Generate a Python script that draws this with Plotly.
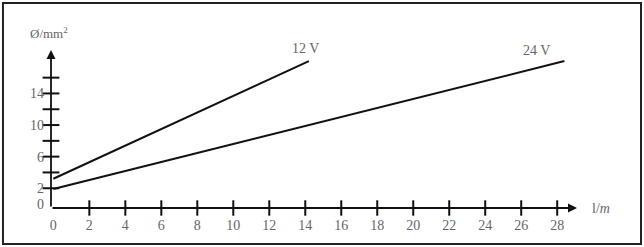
import plotly.graph_objects as go

# data
x_12v = [0, 14.2]
y_12v = [3.2, 18.1]
x_24v = [0, 28.4]
y_24v = [1.9, 18.1]
x_ticks = [2, 4, 6, 8, 10, 12, 14, 16, 18, 20, 22, 24, 26, 28]
x_ticklabels = ["0", "2", "4", "6", "8", "10", "12", "14", "16", "18", "20", "22", "24", "26", "28"]
x_labelvals = [0] + x_ticks
y_ticks = [2, 4, 6, 8, 10, 12, 14, 16]
y_labelvals = [0, 2, 6, 10, 14]
y_ticklabels = ["0", "2", "6", "10", "14"]

XMIN, XMAX = -0.13, 29.1
YMIN, YMAX = -0.5, 19.5
FONT = "Liberation Serif"
GRAY = "#666666"

fig = go.Figure()
fig.add_trace(go.Scatter(x=x_12v, y=y_12v, mode="lines",
                         line=dict(color="#111111", width=2), showlegend=False, cliponaxis=False))
fig.add_trace(go.Scatter(x=x_24v, y=y_24v, mode="lines",
                         line=dict(color="#111111", width=2), showlegend=False, cliponaxis=False))
# crossing tick marks
fig.add_trace(go.Scatter(x=x_ticks, y=[YMIN] * len(x_ticks), mode="markers",
                         marker=dict(symbol="line-ns", size=11, line=dict(color="#111111", width=2)),
                         showlegend=False, cliponaxis=False))
fig.add_trace(go.Scatter(x=[XMIN] * len(y_ticks), y=y_ticks, mode="markers",
                         marker=dict(symbol="line-ew", size=12, line=dict(color="#111111", width=2)),
                         showlegend=False, cliponaxis=False))

# axes with arrows
fig.add_annotation(x=XMAX, y=YMIN, ax=XMIN, ay=YMIN, xref="x", yref="y", axref="x", ayref="y",
                   showarrow=True, arrowhead=2, arrowsize=1, arrowwidth=1.8, arrowcolor="#111111", text="")
fig.add_annotation(x=XMIN, y=YMAX, ax=XMIN, ay=YMIN, xref="x", yref="y", axref="x", ayref="y",
                   showarrow=True, arrowhead=2, arrowsize=1, arrowwidth=1.8, arrowcolor="#111111", text="")

fig.add_annotation(x=0.483, y=1.07, xref="paper", yref="paper", text="12 V", showarrow=False,
                   font=dict(family=FONT, size=14, color=GRAY))
fig.add_annotation(x=0.953, y=1.057, xref="paper", yref="paper", text="24 V", showarrow=False,
                   font=dict(family=FONT, size=14, color=GRAY))
fig.add_annotation(x=-0.004, y=1.108, xref="paper", yref="paper", text="Ø/mm<sup>2</sup>",
                   showarrow=False, xanchor="center", yanchor="middle",
                   font=dict(family=FONT, size=13, color=GRAY))
fig.add_annotation(x=1.045, y=0.0, xref="paper", yref="paper", text="l/<i>m</i>",
                   showarrow=False, xanchor="center", yanchor="middle",
                   font=dict(family=FONT, size=14, color=GRAY))

# frame
fig.add_shape(type="rect", xref="paper", yref="paper", x0=-0.0913, x1=1.1217, y0=-0.228, y1=1.297,
              line=dict(color="#222222", width=2))

fig.update_xaxes(range=[XMIN, XMAX], showgrid=False, zeroline=False, showline=False,
                 tickvals=x_labelvals, ticktext=x_ticklabels, ticks="", ticklabelstandoff=7,
                 tickfont=dict(family=FONT, size=14, color=GRAY))
fig.update_yaxes(range=[YMIN, YMAX], showgrid=False, zeroline=False, showline=False,
                 tickvals=y_labelvals, ticktext=y_ticklabels, ticks="", ticklabelstandoff=6,
                 tickfont=dict(family=FONT, size=14, color=GRAY))

fig.update_layout(width=644, height=247, margin=dict(l=51, r=67, t=50, b=39),
                  plot_bgcolor="white", paper_bgcolor="white")
fig.write_html("out.html")
